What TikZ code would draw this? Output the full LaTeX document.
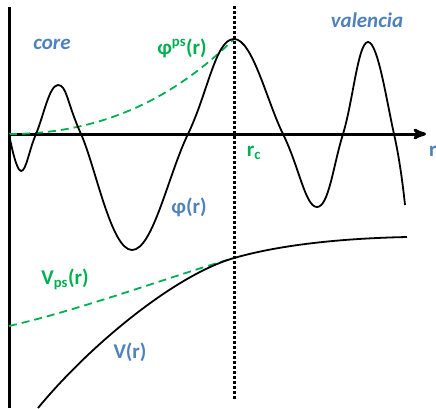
\documentclass[tikz,border=0pt]{standalone}
\usepackage{fontspec}
\setmainfont{Carlito}
\usetikzlibrary{arrows}
\definecolor{psgreen}{RGB}{0,176,80}
\definecolor{lblblue}{RGB}{79,129,189}

\begin{document}
\begin{tikzpicture}[>=stealth', x=1pt, y=-1pt, font=\fontsize{21}{24}\selectfont\bfseries] % Styles
\tikzstyle{axis}=[line width=3pt]
\tikzstyle{curve}=[line width=1.8pt, line join=round]
\tikzstyle{pscurve}=[psgreen, line width=1.8pt, dash pattern=on 8pt off 5pt]
\tikzstyle{cutoff}=[line width=3pt, dash pattern=on 2.5pt off 2.5pt]
\tikzstyle{bluelbl}=[text=lblblue, inner sep=0pt]
\tikzstyle{greenlbl}=[text=psgreen, inner sep=0pt]
\useasboundingbox (0,0) rectangle (436,408); % Axes
\coordinate (top) at (9,7);
\coordinate (bottom) at (9,408);
\coordinate (origin) at (9,134);
\coordinate (rend) at (426,134);
\coordinate (rctop) at (234,6);
\coordinate (rcbot) at (234,400);
\coordinate (match) at (234,258);
\draw[axis] (top) -- (bottom);
\draw[axis,->] (origin) -- (rend);
\draw[cutoff] (rctop) -- (rcbot); % Curves
\draw[pscurve] (origin) .. controls (120,134) and (190,82) .. (234,39);
\draw[curve] plot[smooth, tension=0.7] coordinates {(9,134) (21,171) (36,134) (58,85) (81,134) (132,250) (188,134) (234,39) (283,134) (317,207) (343,134) (368,42) (394,134) (405,205)};
\draw[pscurve] (9,326) .. controls (80,310) and (175,275) .. (match);
\draw[curve] (38,408) .. controls (90,345) and (175,275) .. (match) .. controls (290,242) and (360,238) .. (407,237); % Labels
\node[bluelbl, font=\fontsize{21}{24}\selectfont\bfseries\itshape] (core) at (52,44) {core};
\node[bluelbl, font=\fontsize{21}{24}\selectfont\bfseries\itshape] (valencia) at (367,20) {valencia};
\node[greenlbl] (phips) at (182,48) {φ\textsuperscript{ps}(r)};
\node[bluelbl] (phi) at (189,207) {φ(r)};
\node[greenlbl] (vps) at (65,279) {V\textsubscript{ps}(r)};
\node[bluelbl] (vr) at (130,352) {V(r)};
\node[greenlbl] (rc) at (254,153) {r\textsubscript{c}};
\node[bluelbl, anchor=west] (r) at (429,151) {r};
\end{tikzpicture}
\end{document}
